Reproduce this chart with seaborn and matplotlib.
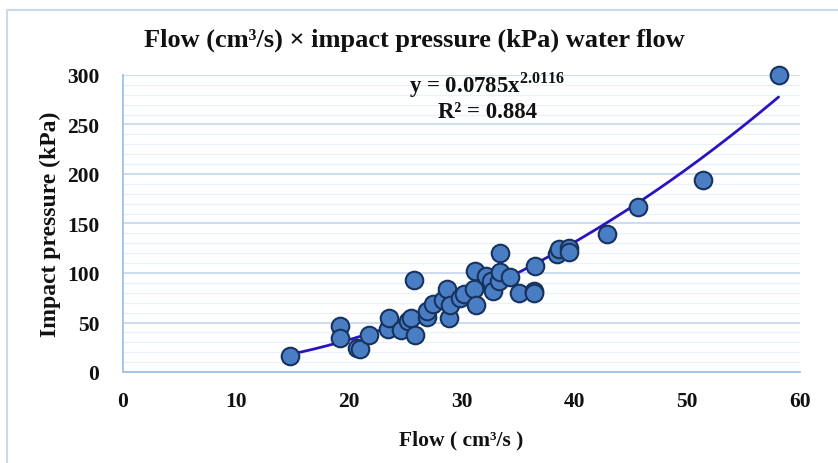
import numpy as np
import pandas as pd
import matplotlib
matplotlib.use("Agg")
import matplotlib.pyplot as plt
import seaborn as sns
from matplotlib.patches import Rectangle
from matplotlib.ticker import MultipleLocator

# ---- data ----
flow = [14.8, 19.2, 19.2, 20.7, 21.0, 21.8, 23.5, 23.6, 24.6, 25.3,
        25.5, 25.8, 25.9, 26.9, 26.9, 27.5, 28.4, 28.7, 28.9, 29.0,
        29.9, 30.2, 31.1, 31.2, 31.3, 32.2, 32.6, 32.8, 33.3, 33.4,
        33.4, 34.3, 35.1, 36.4, 36.4, 36.5, 38.5, 38.6, 39.5, 39.5,
        42.9, 45.6, 51.4, 58.1]
pressure = [16, 46, 34, 24, 23, 37, 43, 55, 42, 52,
            55, 93, 37, 56, 62, 69, 73, 84, 55, 68,
            75, 79, 84, 102, 68, 97, 92, 82, 92, 120,
            101, 96, 80, 82, 80, 107, 119, 124, 125, 121,
            139, 167, 194, 300]

coef_a = 0.0785
coef_b = 2.0116
r2 = 0.884

title = "Flow (cm³/s) × impact pressure (kPa) water flow"
xlabel = "Flow ( cm³/s )"
ylabel = "Impact pressure (kPa)"
xticks = [0, 10, 20, 30, 40, 50, 60]
yticks = [0, 50, 100, 150, 200, 250, 300]

df = pd.DataFrame({"flow": flow, "pressure": pressure})
xfit = np.linspace(min(flow), max(flow), 200)
fit = pd.DataFrame({"flow": xfit, "pressure": coef_a * xfit ** coef_b})

sns.set_theme(style="white")
plt.rcParams["font.family"] = ["Liberation Serif", "DejaVu Serif"]
plt.rcParams["font.weight"] = "bold"
plt.rcParams["mathtext.fontset"] = "custom"
plt.rcParams["mathtext.rm"] = "Liberation Serif:bold"
plt.rcParams["mathtext.bf"] = "Liberation Serif:bold"

W, H = 838, 464
fig = plt.figure(figsize=(W / 100, H / 100), dpi=100)
fig.patch.set_facecolor("white")
ax = fig.add_axes([123 / W, 1 - 373 / H, (800 - 123) / W, (373 - 76) / H])

# outer chart frame
fig.patches.append(Rectangle((7 / W, -0.05), 1.2, 1 - 11 / H + 0.05,
                             transform=fig.transFigure, fill=False,
                             edgecolor="#C9DAF0", linewidth=1.5, zorder=0))

ax.set_xlim(0, 60)
ax.set_ylim(0, 300)
ax.set_xticks(xticks)
ax.set_yticks(yticks)
ax.yaxis.set_minor_locator(MultipleLocator(10))
ax.grid(which="major", axis="y", color="#C8DAF0", linewidth=1.3, zorder=0)
ax.grid(which="minor", axis="y", color="#EAF1FA", linewidth=1.0, zorder=0)
ax.grid(which="major", axis="x", visible=False)
ax.set_axisbelow(True)

sns.lineplot(data=fit, x="flow", y="pressure", ax=ax, color="#2A14C0",
             linewidth=2.0, zorder=2)
sns.scatterplot(data=df, x="flow", y="pressure", ax=ax, s=160,
                color="#4A7EC4", edgecolor="#17325E", linewidth=1.5,
                zorder=3, clip_on=False)

for side in ["top", "right"]:
    ax.spines[side].set_visible(False)
for side in ["left", "bottom"]:
    ax.spines[side].set_color("#9FC0E8")
    ax.spines[side].set_linewidth(1.3)

ax.tick_params(axis="both", which="major", direction="out", length=6,
               width=1.2, color="#9FC0E8", labelsize=15.5)
ax.tick_params(axis="x", pad=8)
ax.tick_params(axis="y", pad=11)
ax.tick_params(axis="both", which="minor", length=0)
for lab in ax.get_xticklabels() + ax.get_yticklabels():
    lab.set_fontweight("bold")
    lab.set_color("#111111")

ax.set_xlabel(xlabel, fontsize=15.5, fontweight="bold", color="#111111", labelpad=13)
ax.set_ylabel(ylabel, fontsize=17, fontweight="bold", color="#111111", labelpad=4)

fig.text(414.5 / W, 1 - 47 / H, title, ha="center", va="baseline",
         fontsize=19, fontweight="bold", color="#111111")

ax.text(487 / W, 1 - 92 / H,
        "y = %.4fx$^{\\mathbf{%.4f}}$" % (coef_a, coef_b),
        transform=fig.transFigure, ha="center", va="baseline",
        fontsize=16.5, fontweight="bold", color="#111111")
ax.text(487.5 / W, 1 - 118 / H, "R² = %.3f" % r2,
        transform=fig.transFigure, ha="center", va="baseline",
        fontsize=16.5, fontweight="bold", color="#111111")

fig.savefig("out.png", dpi=100)
